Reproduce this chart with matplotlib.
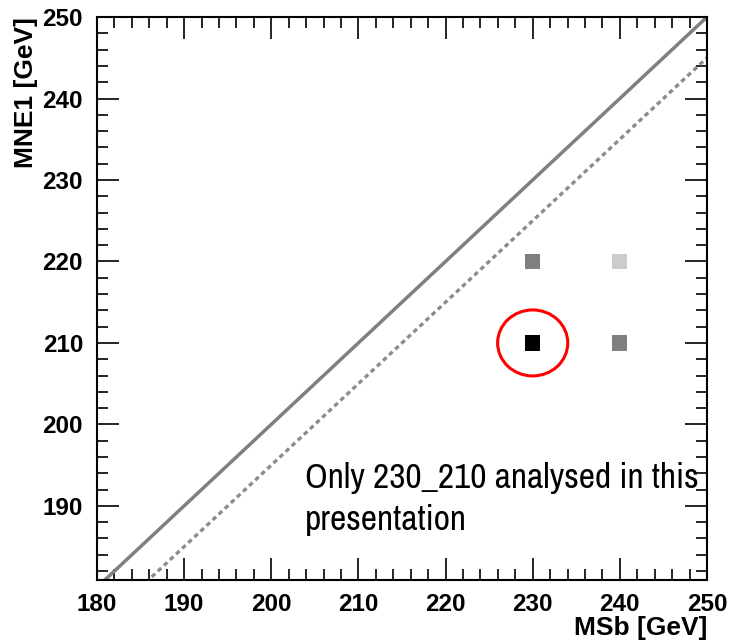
import matplotlib
matplotlib.use("Agg")
import matplotlib.pyplot as plt
from matplotlib import font_manager
from matplotlib.patches import Ellipse
from matplotlib.ticker import MultipleLocator
import numpy as np

# Mass grid points (MSb, MNE1) and their relative weight
msb_points = [230, 240, 230, 240]
mne1_points = [220, 220, 210, 210]
weights = [0.5, 0.2, 1.0, 0.5]

# Kinematic boundary lines
diag_x = [180, 250]
diag_offset_solid = 0
diag_offset_dashed = 5

# Highlighted point
chosen_point = (230, 210)

x_ticks = [180, 190, 200, 210, 220, 230, 240, 250]
y_ticks = [190, 200, 210, 220, 230, 240, 250]

note_text = "Only 230_210 analysed in this\npresentation"

plt.rcParams['font.family'] = ['Liberation Sans', 'DejaVu Sans']


def narrow_font():
    """Pick a condensed/narrow face if one is installed."""
    entries = font_manager.fontManager.ttflist
    for e in entries:
        if 'Narrow' in e.name or 'Condensed' in e.name:
            if e.weight in ('normal', 400, 'regular', 300, 'light'):
                return dict(family=[e.name, 'DejaVu Sans'])
    for e in entries:
        if e.name == 'DejaVu Sans' and e.stretch in ('condensed', 'semi-condensed'):
            return dict(family=['DejaVu Sans'], stretch='condensed')
    return dict(family=['Roboto', 'DejaVu Sans'])


fig = plt.figure(figsize=(7.33, 6.40), dpi=100)
ax = fig.add_axes([0.1323, 0.0937, 0.8322, 0.8797])

ax.set_xlim(180, 250)
ax.set_ylim(180.9, 250)

xs = np.array(diag_x, dtype=float)
ax.plot(xs, xs - diag_offset_solid, color='#808080', lw=2.5, solid_capstyle='butt', zorder=2)
ax.plot(xs, xs - diag_offset_dashed, color='#8c8c8c', lw=2.4, linestyle=(0, (1.4, 1.1)), zorder=2)

ax.scatter(msb_points, mne1_points, c=weights, cmap='gray_r', vmin=0, vmax=1,
           marker='s', s=120, linewidths=0, zorder=3)

ax.add_patch(Ellipse(chosen_point, width=8.05, height=8.1, fill=False,
                     edgecolor='red', lw=2.2, zorder=4))

note = ax.text(203.9, 187.05, note_text, fontsize=28, ha='left', va='baseline',
               linespacing=1.37, color='black', zorder=5, **narrow_font())

ax.set_xticks(x_ticks)
ax.set_yticks(y_ticks)
ax.xaxis.set_minor_locator(MultipleLocator(2))
ax.yaxis.set_minor_locator(MultipleLocator(2))
ax.tick_params(which='both', direction='in', top=True, right=True, width=1.2, color='black')
ax.tick_params(which='major', length=16)
ax.tick_params(which='minor', length=8)
ax.tick_params(axis='x', which='major', pad=9)
ax.tick_params(axis='y', which='major', pad=10)
for lab in ax.get_xticklabels() + ax.get_yticklabels():
    lab.set_fontweight('bold')
    lab.set_fontsize(17.5)

for s in ax.spines.values():
    s.set_linewidth(1.5)

ax.set_xlabel("MSb [GeV]", fontsize=19, fontweight='bold', loc='right', labelpad=0)
ax.set_ylabel("MNE1 [GeV]", fontsize=19, fontweight='bold', loc='top', labelpad=3)

# keep the note inside the frame: shrink it to the available width if needed
fig.canvas.draw()
renderer = fig.canvas.get_renderer()
bb = note.get_window_extent(renderer)
target_w = 395.0
if bb.width > target_w:
    note.set_fontsize(28 * target_w / bb.width)

fig.savefig("out.png", dpi=100)
